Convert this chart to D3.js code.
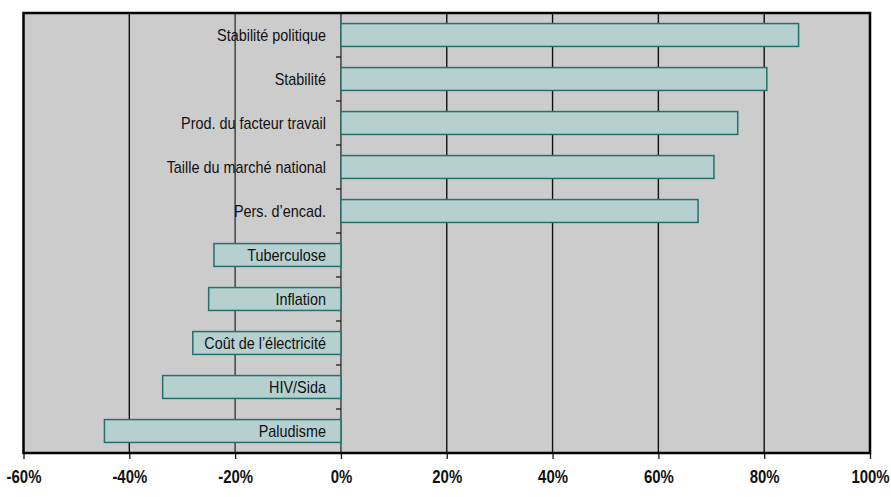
<!DOCTYPE html>
<html>
<head>
<meta charset="utf-8">
<script src="https://cdn.jsdelivr.net/npm/d3@7"></script>
<style>
  html, body { margin: 0; padding: 0; background: #ffffff; }
  svg { display: block; }
  .cat { font-family: "Liberation Sans", Arial, sans-serif; font-size: 16px; fill: #111; }
  .xaxis text { font-family: "Liberation Sans", Arial, sans-serif; font-weight: bold; font-size: 18px; fill: #111; }
</style>
</head>
<body>
<svg id="chart" width="891" height="497"></svg>
<script>
// Factors ranked by share of respondents (positive = advantage, negative = obstacle)
const categories = [
  "Stabilité politique",
  "Stabilité",
  "Prod. du facteur travail",
  "Taille du marché national",
  "Pers. d\u2019encad.",
  "Tuberculose",
  "Inflation",
  "Coût de l\u2019électricité",
  "HIV/Sida",
  "Paludisme"
];
const values = [0.865, 0.805, 0.75, 0.705, 0.675, -0.24, -0.25, -0.28, -0.337, -0.447];
const xTicks = [-0.6, -0.4, -0.2, 0, 0.2, 0.4, 0.6, 0.8, 1.0];

const margin = { top: 13, right: 21, bottom: 44, left: 23.5 };
const width = 891, height = 497;
const innerW = width - margin.left - margin.right;
const innerH = height - margin.top - margin.bottom;

// condensed look for the text
const catStretch = 0.9, tickStretch = 0.83;

const svg = d3.select("#chart");
const g = svg.append("g").attr("transform", `translate(${margin.left},${margin.top})`);

const x = d3.scaleLinear().domain([-0.6, 1.0]).range([0, innerW]);
const y = d3.scaleBand().domain(categories).range([0, innerH])
  .paddingInner(0.48).paddingOuter(0.24);

// plot background
g.append("rect")
  .attr("width", innerW).attr("height", innerH)
  .attr("fill", "#cccccc");

// bottom axis: labels plus short ticks below the frame
const xAxis = d3.axisBottom(x)
  .tickValues(xTicks)
  .tickSize(6)
  .tickPadding(11)
  .tickFormat(d => Math.round(d * 100) + "%");
const ax = g.append("g").attr("class", "xaxis")
  .attr("transform", `translate(0,${innerH})`)
  .call(xAxis);
ax.select(".domain").remove();
ax.selectAll(".tick line").attr("stroke", "#1a1a1a").attr("stroke-width", 1.3);
ax.selectAll(".tick text").attr("transform", `scale(${tickStretch},1)`);

// vertical grid lines
g.append("g").selectAll("line")
  .data(xTicks.filter(t => t > -0.6 && t < 1.0))
  .join("line")
  .attr("x1", d => x(d)).attr("x2", d => x(d))
  .attr("y1", 0).attr("y2", innerH)
  .attr("stroke", d => (d === 0 || d === -0.2) ? "#3a3a3a" : "#111")
  .attr("stroke-width", 1.4);

// bars
g.append("g").selectAll("rect")
  .data(categories)
  .join("rect")
  .attr("x", (d, i) => x(Math.min(0, values[i])))
  .attr("y", d => y(d))
  .attr("width", (d, i) => Math.abs(x(values[i]) - x(0)))
  .attr("height", y.bandwidth())
  .attr("fill", "#b5d0ce")
  .attr("stroke", "#24706a")
  .attr("stroke-width", 1.5);

// category labels, right-aligned just left of the zero line
g.append("g").selectAll("text")
  .data(categories)
  .join("text")
  .attr("class", "cat")
  .attr("transform", d => `translate(${x(0) - 15},${y(d) + y.bandwidth() / 2}) scale(${catStretch},1)`)
  .attr("dy", "0.36em")
  .attr("text-anchor", "end")
  .text(d => d);

// small ticks on the zero line between categories
const step = y.step();
g.append("g").selectAll("line")
  .data(categories.slice(1))
  .join("line")
  .attr("x1", x(0) - 5).attr("x2", x(0))
  .attr("y1", d => y(d) + y.bandwidth() / 2 - step / 2)
  .attr("y2", d => y(d) + y.bandwidth() / 2 - step / 2)
  .attr("stroke", "#111").attr("stroke-width", 1.2);

// frame
g.append("rect")
  .attr("width", innerW).attr("height", innerH)
  .attr("fill", "none")
  .attr("stroke", "#000")
  .attr("stroke-width", 2.5);
</script>
</body>
</html>
